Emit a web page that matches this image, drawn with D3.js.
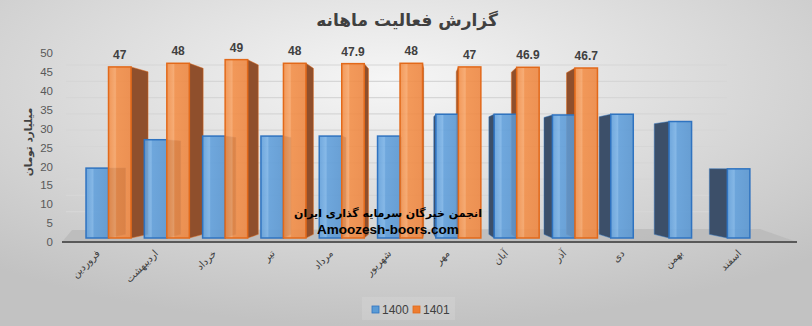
<!DOCTYPE html>
<meta charset="utf-8">
<style>
    body { margin: 0; }
    svg { display: block; }
    text { font-family: "Liberation Sans", "DejaVu Sans", sans-serif; }
</style>

<script src="https://d3js.org/d3.v7.min.js"></script>

<svg id="chart" width="812" height="326"></svg>

<script>

// Data
var months = ['فروردین', 'اردیبهشت', 'خرداد', 'تیر', 'مرداد', 'شهریور',
              'مهر', 'آبان', 'آذر', 'دی', 'بهمن', 'اسفند'];
var series = ['1400', '1401'];
var values1400 = [19.2, 27, 28, 28, 28, 28, 34, 34, 33.8, 34, 32, 19];
var values1401 = [47, 48, 49, 48, 47.9, 48, 47, 46.9, 46.7, null, null, null];
var yTicks = d3.range(0, 55, 5);

var title = 'گزارش فعالیت ماهانه';
var yTitle = 'میلیارد تومان';

var svg = d3.select('svg#chart');
var width = +svg.attr('width');
var height = +svg.attr('height');

var defs = svg.append('defs');

// background
var bg = defs.append('radialGradient').attr('id', 'bg')
    .attr('cx', '48%').attr('cy', '25%').attr('r', '75%');
bg.append('stop').attr('offset', '0%').attr('stop-color', '#f6f6f6');
bg.append('stop').attr('offset', '100%').attr('stop-color', '#c2c2c2');
svg.append('rect').attr('width', width).attr('height', height).attr('fill', 'url(#bg)');

var faceGradient = function (id, base, light, dark) {
    var g = defs.append('linearGradient').attr('id', id)
        .attr('x1', '0%').attr('x2', '100%').attr('y1', '0%').attr('y2', '0%');
    g.append('stop').attr('offset', '0%').attr('stop-color', base);
    g.append('stop').attr('offset', '30%').attr('stop-color', light);
    g.append('stop').attr('offset', '36%').attr('stop-color', base);
    g.append('stop').attr('offset', '100%').attr('stop-color', dark);
};
faceGradient('blueFace', '#5f9fdc', '#7ab3e8', '#5896d2');
faceGradient('orangeFace', '#f38d45', '#f8a466', '#ee8640');

var colors = {
    '1400': { face: 'url(#blueFace)', stroke: '#2f73c0', side: '#3c4f69', legend: '#5b9bd5' },
    '1401': { face: 'url(#orangeFace)', stroke: '#e2691a', side: '#8f4f2c', legend: '#ed7d31' }
};

// Scales
var x0 = d3.scaleBand().domain(months).range([62.7, 795.7]).paddingInner(0.228).paddingOuter(0.4);
var x1 = d3.scaleBand().domain(series).range([0, x0.bandwidth()]);
var yFront = d3.scaleLinear().domain([0, 50]).range([238, 56]);
var yAxisScale = d3.scaleLinear().domain([0, 50]).range([242, 53]);
var yBack = d3.scaleLinear().domain([0, 50]).range([228, 65]);

// perspective helpers
var depthX = function (i) { return 17 - 35 * i / 11; };
var backY = function (y) { return y + 0.05 * (165 - y); };

// floor
svg.append('path')
    .attr('d', 'M62,242 L72,230 L760,229 L797,242 Z')
    .attr('fill', '#b9b9b9').attr('opacity', 0.8);

// back wall gridlines
svg.append('g').selectAll('line')
    .data(yTicks.slice(1))
    .join('line')
    .attr('x1', 66).attr('x2', 727)
    .attr('y1', function (d) { return yBack(d); })
    .attr('y2', function (d) { return yBack(d); })
    .attr('stroke', '#d6d6d6').attr('stroke-width', 1.2);

// y axis labels
var yAxis = svg.append('g')
    .attr('transform', 'translate(53,0)')
    .call(d3.axisLeft(yAxisScale).tickValues(yTicks).tickSize(0).tickPadding(0));
yAxis.select('.domain').remove();
yAxis.selectAll('text')
    .attr('font-size', 11.5).attr('fill', '#595959')
    .style('font-family', '"Liberation Sans", sans-serif');

// bar records
var bars = [];
months.forEach(function (m, i) {
    [values1400[i], values1401[i]].forEach(function (v, s) {
        if (v == null) return;
        bars.push({ month: m, i: i, series: series[s], value: v });
    });
});

var barGeom = function (d) {
    var xl = x0(d.month) + x1(d.series);
    var xr = xl + x1.bandwidth();
    var yt = yFront(d.value), yb = yFront(0);
    var dx = depthX(d.i);
    var xs = dx > 0 ? xr : xl;
    return {
        xl: xl, xr: xr, yt: yt, yb: yb,
        side: [[xs, yt], [xs + dx, backY(yt)], [xs + dx, backY(yb)], [xs, yb]]
    };
};

// side faces first
svg.append('g').selectAll('path')
    .data(bars)
    .join('path')
    .attr('d', function (d) { return 'M' + barGeom(d).side.join('L') + 'Z'; })
    .attr('fill', function (d) { return colors[d.series].side; })
    .attr('stroke', function (d) { return colors[d.series].stroke; })
    .attr('stroke-width', 0.8)
    .attr('stroke-opacity', 0.6);

// front faces
svg.append('g').selectAll('rect')
    .data(bars)
    .join('rect')
    .attr('x', function (d) { return barGeom(d).xl; })
    .attr('y', function (d) { return barGeom(d).yt; })
    .attr('width', x1.bandwidth())
    .attr('height', function (d) { return barGeom(d).yb - barGeom(d).yt; })
    .attr('fill', function (d) { return colors[d.series].face; })
    .attr('fill-opacity', 0.88)
    .attr('stroke', function (d) { return colors[d.series].stroke; })
    .attr('stroke-width', 1.5);

// floor front edge
svg.append('line')
    .attr('x1', 62).attr('x2', 797).attr('y1', 242).attr('y2', 242)
    .attr('stroke', '#595959').attr('stroke-width', 2);

// data labels (1401)
svg.append('g').selectAll('text')
    .data(bars.filter(function (d) { return d.series === '1401'; }))
    .join('text')
    .attr('x', function (d) { return x0(d.month) + x1(d.series) + x1.bandwidth() / 2; })
    .attr('y', function (d) { return yFront(d.value) - 8; })
    .attr('text-anchor', 'middle')
    .attr('font-size', 12).attr('font-weight', 'bold').attr('fill', '#404040')
    .text(function (d) { return d.value; });

// category labels
svg.append('g').selectAll('text')
    .data(months)
    .join('text')
    .attr('transform', function (d) {
        return 'translate(' + (x0(d) + x0.bandwidth() / 2 - 8) + ',254) rotate(-45)';
    })
    .attr('text-anchor', 'end')
    .attr('font-size', 10).attr('fill', '#404040')
    .style('font-family', '"DejaVu Sans", sans-serif')
    .text(function (d) { return d; });

// title
svg.append('text')
    .attr('x', 407).attr('y', 26)
    .attr('text-anchor', 'middle')
    .attr('font-size', 17).attr('font-weight', 'bold').attr('fill', '#404040')
    .style('font-family', '"DejaVu Sans", sans-serif')
    .text(title);

// y axis title
svg.append('text')
    .attr('transform', 'translate(32,142) rotate(-90)')
    .attr('text-anchor', 'middle')
    .attr('font-size', 10.5).attr('font-weight', 'bold').attr('fill', '#404040')
    .style('font-family', '"DejaVu Sans", sans-serif')
    .text(yTitle);

// watermark
svg.append('text')
    .attr('x', 388).attr('y', 217)
    .attr('text-anchor', 'middle')
    .attr('font-size', 11).attr('font-weight', 'bold').attr('fill', '#000')
    .style('font-family', '"DejaVu Sans", sans-serif')
    .text('انجمن خبرگان سرمایه گذاری ایران');
svg.append('text')
    .attr('x', 388).attr('y', 234)
    .attr('text-anchor', 'middle')
    .attr('font-size', 13.5).attr('font-weight', 'bold').attr('fill', '#000')
    .text('Amoozesh-boors.com');

// legend
var legend = svg.append('g').attr('transform', 'translate(362,297)');
legend.append('rect').attr('width', 93).attr('height', 23)
    .attr('fill', '#ffffff').attr('opacity', 0.12);
var items = legend.selectAll('g')
    .data(series)
    .join('g')
    .attr('transform', function (d, i) { return 'translate(' + (10 + i * 41) + ',0)'; });
items.append('rect')
    .attr('y', 9).attr('width', 7).attr('height', 7)
    .attr('fill', function (d) { return colors[d].legend; })
    .attr('stroke', function (d) { return colors[d].stroke; })
    .attr('stroke-width', 0.8);
items.append('text')
    .attr('x', 10).attr('y', 17)
    .attr('font-size', 12).attr('fill', '#404040')
    .text(function (d) { return d; });

</script>
